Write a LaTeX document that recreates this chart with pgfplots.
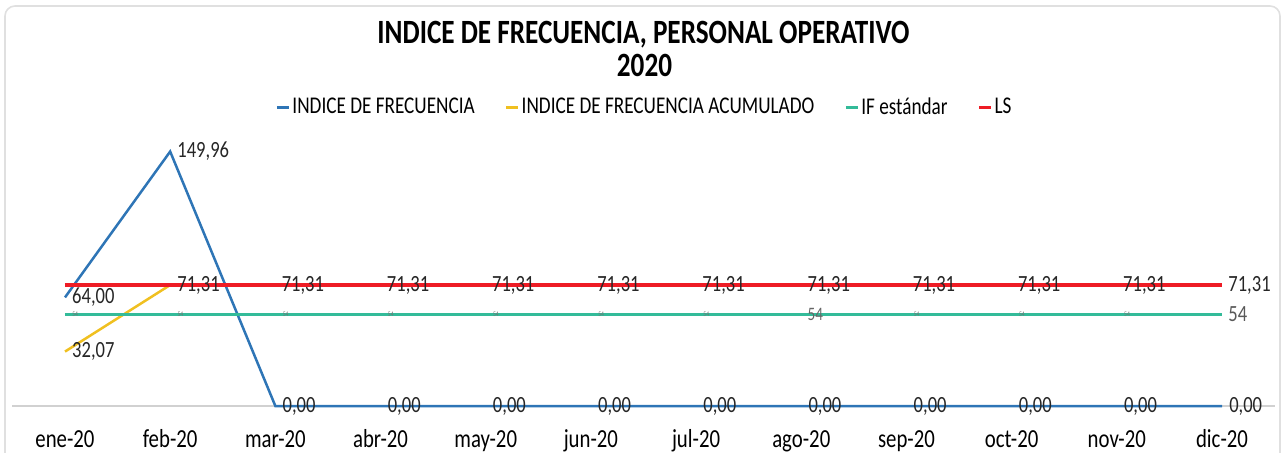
\documentclass[border=0pt]{standalone}
\usepackage{pgfplots}
\pgfplotsset{compat=1.18}
\usepackage{fontspec}
\setmainfont{Carlito}[FakeStretch=0.8]
\definecolor{cblue}{HTML}{2E75B6}
\definecolor{cyellow}{HTML}{F0C020}
\definecolor{cteal}{HTML}{33BB99}
\definecolor{cred}{HTML}{EE1C25}
\newcommand{\labfont}{\fontsize{11.6}{13}\selectfont}
\begin{document}
\begin{tikzpicture}
\draw[black!12, line width=0.8pt, rounded corners=5pt] (2.5pt,-10pt) -- (2.5pt,223pt) -- (640pt,223pt) -- (640pt,-10pt);
\begin{axis}[
  at={(6.2pt,23pt)}, anchor=south west, scale only axis,
  width=631.1pt, height=135.75pt,
  xmin=-0.5, xmax=11.5, ymin=0, ymax=160,
  axis x line*=bottom, axis y line=none,
  x axis line style={black!18, line width=0.8pt, -},
  xtick={0,1,2,3,4,5,6,7,8,9,10,11},
  xticklabels={ene-20,feb-20,mar-20,abr-20,may-20,jun-20,jul-20,ago-20,sep-20,oct-20,nov-20,dic-20},
  major tick length=0pt,
  xticklabel style={anchor=base, yshift=-20.5pt, font=\fontsize{13}{15}\selectfont, text=black},
  clip=false,
  legend style={at={(0.5,1.0994)}, anchor=center, draw=none, fill=none,
    font=\fontsize{12}{14}\selectfont, legend columns=4, inner sep=0pt,
    nodes={inner sep=0pt},
    /tikz/every odd column/.append style={column sep=1pt},
    /tikz/every even column/.append style={column sep=15pt}},
  legend image code/.code={\draw[#1, line width=1.5pt] (0pt,0pt) -- (6pt,0pt);},
  every node near coord/.append style={anchor=west, inner sep=0pt, xshift=3pt, font=\labfont, text=black!85},
  /pgf/number format/.cd, fixed, fixed zerofill, precision=2, use comma, assume math mode=true,
]
\addplot[cblue, line width=1.25pt, nodes near coords] coordinates {
  (0,64.00) (1,149.96) (2,0) (3,0) (4,0) (5,0) (6,0) (7,0) (8,0) (9,0) (10,0) (11,0)};
\addlegendentry{INDICE DE FRECUENCIA}
\addplot[cyellow, line width=1.25pt, nodes near coords] coordinates {
  (0,32.07) (1,71.31)};
\addlegendentry{INDICE DE FRECUENCIA ACUMULADO}
\addplot[cteal, line width=1.4pt] coordinates {
  (0,54) (1,54) (2,54) (3,54) (4,54) (5,54) (6,54) (7,54) (8,54) (9,54) (10,54) (11,54)};
\addlegendentry{IF estándar}
\addplot[cred, line width=1.6pt] coordinates {
  (0,71.31) (1,71.31) (2,71.31) (3,71.31) (4,71.31) (5,71.31) (6,71.31) (7,71.31) (8,71.31) (9,71.31) (10,71.31) (11,71.31)};
\addlegendentry{LS}
% red labels
\addplot[draw=none, forget plot, nodes near coords] coordinates {
  (2,71.31) (3,71.31) (4,71.31) (5,71.31) (6,71.31) (7,71.31) (8,71.31) (9,71.31) (10,71.31) (11,71.31)};
% teal tiny labels
\addplot[draw=none, forget plot, nodes near coords={\pgfmathprintnumber[precision=0,fixed zerofill=false]{\pgfplotspointmeta}},
  every node near coord/.append style={font=\fontsize{3.5}{4}\selectfont, text=black!55, xshift=0.5pt}] coordinates {
  (0,54) (1,54) (2,54) (3,54) (4,54) (5,54) (6,54) (8,54) (9,54) (10,54)};
\addplot[draw=none, forget plot, nodes near coords={\pgfmathprintnumber[precision=0,fixed zerofill=false]{\pgfplotspointmeta}},
  every node near coord/.append style={font=\fontsize{9.5}{10}\selectfont, text=black!60}] coordinates {(7,54)};
\addplot[draw=none, forget plot, nodes near coords={\pgfmathprintnumber[precision=0,fixed zerofill=false]{\pgfplotspointmeta}},
  every node near coord/.append style={text=black!65}] coordinates {(11,54)};
\end{axis}
\node[anchor=base, font=\bfseries\fontsize{17}{19}\selectfont] at (321.75pt,204.3pt) {INDICE DE FRECUENCIA, PERSONAL OPERATIVO};
\node[anchor=base, font=\bfseries\fontsize{17}{19}\selectfont] at (322.25pt,187.7pt) {2020};
\pgfresetboundingbox
\useasboundingbox (0,0) rectangle (643.5pt,226pt);
\end{tikzpicture}
\end{document}
